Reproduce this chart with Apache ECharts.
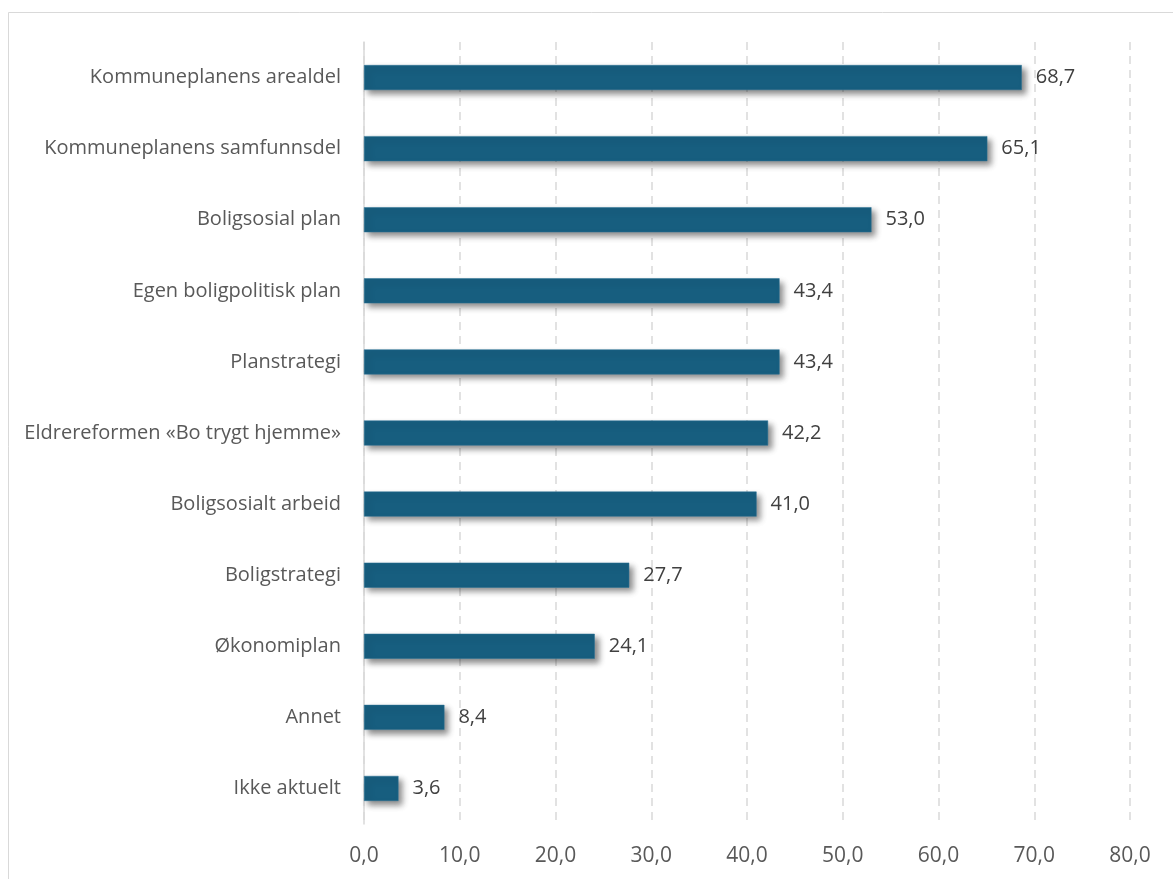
<!DOCTYPE html>
<html>
<head>
<meta charset="utf-8">
<script src="https://cdn.jsdelivr.net/npm/echarts@6/dist/echarts.min.js"></script>
<style>
  html, body { margin: 0; padding: 0; background: #ffffff; }
  #chart { width: 1173px; height: 879px; }
</style>
</head>
<body>
<div id="chart"></div>
<script>
// Categories listed bottom-to-top (ECharts category axis runs upward)
const categories = [
  'Ikke aktuelt',
  'Annet',
  'Økonomiplan',
  'Boligstrategi',
  'Boligsosialt arbeid',
  'Eldrereformen «Bo trygt hjemme»',
  'Planstrategi',
  'Egen boligpolitisk plan',
  'Boligsosial plan',
  'Kommuneplanens samfunnsdel',
  'Kommuneplanens arealdel'
];
const values = [3.6, 8.4, 24.1, 27.7, 41.0, 42.2, 43.4, 43.4, 53.0, 65.1, 68.7];
const axisMin = 0;
const axisMax = 80;
const axisStep = 10;

const fmt = v => Number(v).toFixed(1).replace('.', ',');
const FONT = 'Open Sans, Noto Sans, sans-serif';

const chart = echarts.init(document.getElementById('chart'), null, { renderer: 'canvas' });
chart.setOption({
  animation: false,
  backgroundColor: '#ffffff',
  graphic: [{
    type: 'rect',
    z: -10,
    silent: true,
    shape: { x: 8.5, y: 12.5, width: 1300, height: 1000 },
    style: { fill: 'none', stroke: '#d9d9d9', lineWidth: 1 }
  }],
  grid: { left: 364, right: 43, top: 42, bottom: 55, containLabel: false },
  xAxis: {
    type: 'value',
    min: axisMin,
    max: axisMax,
    interval: axisStep,
    axisLine: { show: false },
    axisTick: { show: false },
    splitLine: { show: true, lineStyle: { color: '#d9d9d9', type: [8, 6], width: 1.5 } },
    axisLabel: {
      formatter: fmt,
      color: '#595959',
      fontSize: 21,
      fontFamily: FONT,
      margin: 22
    }
  },
  yAxis: {
    type: 'category',
    data: categories,
    axisLine: { show: true, lineStyle: { color: '#d9d9d9', width: 1.5 } },
    axisTick: { show: false },
    axisLabel: {
      color: '#595959',
      fontSize: 20,
      fontFamily: FONT,
      margin: 23
    }
  },
  series: [{
    type: 'bar',
    data: values,
    barWidth: 25,
    itemStyle: {
      color: '#175e7f',
      borderColor: '#2a7396',
      borderWidth: 0.5,
      shadowColor: 'rgba(0,0,0,0.45)',
      shadowBlur: 6,
      shadowOffsetX: 4,
      shadowOffsetY: 4
    },
    label: {
      show: true,
      position: 'right',
      distance: 14,
      formatter: p => fmt(p.value),
      color: '#404040',
      fontSize: 20,
      fontFamily: FONT
    }
  }]
});
</script>
</body>
</html>
